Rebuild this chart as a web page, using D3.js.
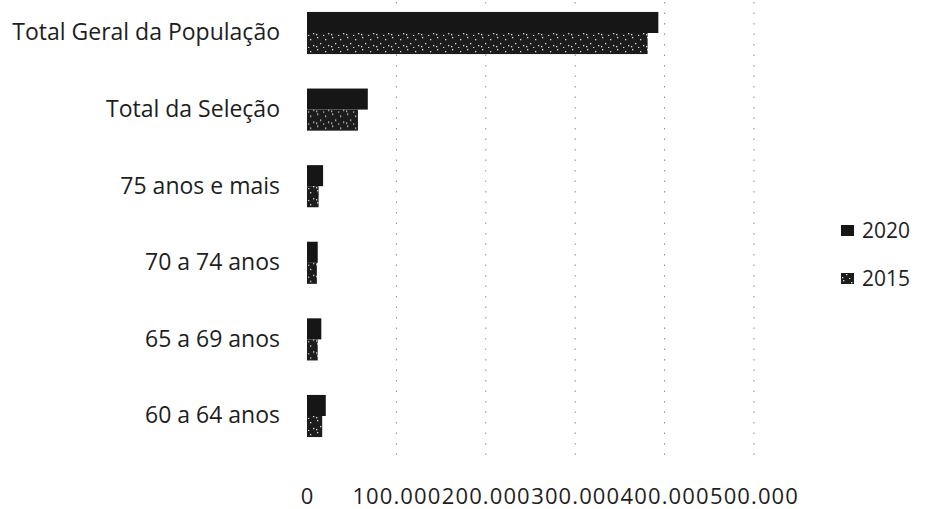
<!DOCTYPE html>
<html>
<head>
<meta charset="utf-8">
<script src="https://cdn.jsdelivr.net/npm/d3@7"></script>
<style>
  body { margin: 0; background: #fff; }
  svg text { font-family: "Open Sans", Lato, sans-serif; fill: #1e1e1e; }
</style>
</head>
<body>
<svg id="chart" width="933" height="509"></svg>
<script>
// Population by age group, 2020 vs 2015
const categories = ["Total Geral da População", "Total da Seleção", "75 anos e mais", "70 a 74 anos", "65 a 69 anos", "60 a 64 anos"];
const seriesNames = ["2020", "2015"];
const values2020 = [393000, 68000, 18000, 12000, 16000, 21000];
const values2015 = [381000, 57000, 13000, 11000, 12000, 17000];
const xTicks = [0, 100000, 200000, 300000, 400000, 500000];

const rows = categories.map((c, i) => ({ category: c, "2020": values2020[i], "2015": values2015[i] }));

const svg = d3.select("#chart");
const ptBR = d3.formatLocale({ decimal: ",", thousands: ".", grouping: [3], currency: ["R$", ""] });
const fmt = ptBR.format(",d");

const x = d3.scaleLinear().domain([0, 500000]).range([307, 754]);
const y = d3.scaleBand().domain(categories).range([-5.3, 454.3]).paddingInner(0.45).paddingOuter(0.225);
const ySub = d3.scaleBand().domain(seriesNames).range([0, y.bandwidth()]);

// speckled fill for the 2015 series
const defs = svg.append("defs");
const pat = defs.append("pattern").attr("id", "speckle").attr("patternUnits", "userSpaceOnUse")
  .attr("width", 15).attr("height", 12);
pat.append("rect").attr("width", 15).attr("height", 12).attr("fill", "#1c1c1c");
[[2, 1], [10, 3], [5, 7], [13, 9], [1, 10], [8, 11]].forEach(([px, py]) =>
  pat.append("rect").attr("x", px).attr("y", py).attr("width", 1.3).attr("height", 1.3).attr("fill", "#e0e0e0"));

const color = { "2020": "#161616", "2015": "url(#speckle)" };

// vertical dotted gridlines
svg.append("g").selectAll("line").data(xTicks.slice(1)).join("line")
  .attr("x1", d => x(d)).attr("x2", d => x(d))
  .attr("y1", 2).attr("y2", 455)
  .attr("stroke", "#8a8a8a").attr("stroke-width", 1)
  .attr("stroke-dasharray", "1.5 9");

// bars
const groups = svg.append("g").selectAll("g").data(rows).join("g")
  .attr("transform", d => `translate(0,${y(d.category)})`);
groups.selectAll("rect").data(d => seriesNames.map(s => ({ s, v: d[s] }))).join("rect")
  .attr("x", x(0))
  .attr("y", d => ySub(d.s))
  .attr("width", d => x(d.v) - x(0))
  .attr("height", ySub.bandwidth())
  .attr("fill", d => color[d.s]);

// category axis
const yAxis = svg.append("g").attr("transform", `translate(${x(0)},0)`)
  .call(d3.axisLeft(y).tickSize(0).tickPadding(27));
yAxis.select(".domain").remove();
yAxis.selectAll("text").attr("font-size", 23).attr("fill", "#1e1e1e");

// value axis
const xAxis = svg.append("g").attr("transform", `translate(0,482)`)
  .call(d3.axisBottom(x).tickValues(xTicks).tickFormat(fmt).tickSize(0).tickPadding(6));
xAxis.select(".domain").remove();
xAxis.selectAll("text").attr("font-size", 22).attr("letter-spacing", 1.1).attr("fill", "#1e1e1e");

// legend
const legend = svg.append("g").attr("transform", "translate(841,0)");
const items = legend.selectAll("g").data(seriesNames).join("g")
  .attr("transform", (d, i) => `translate(0,${231 + i * 48})`);
items.append("rect").attr("x", 0).attr("y", -6).attr("width", 13).attr("height", 11)
  .attr("fill", d => color[d]);
items.append("text").attr("x", 21).attr("dy", "0.35em").attr("font-size", 21).text(d => d);
</script>
</body>
</html>
